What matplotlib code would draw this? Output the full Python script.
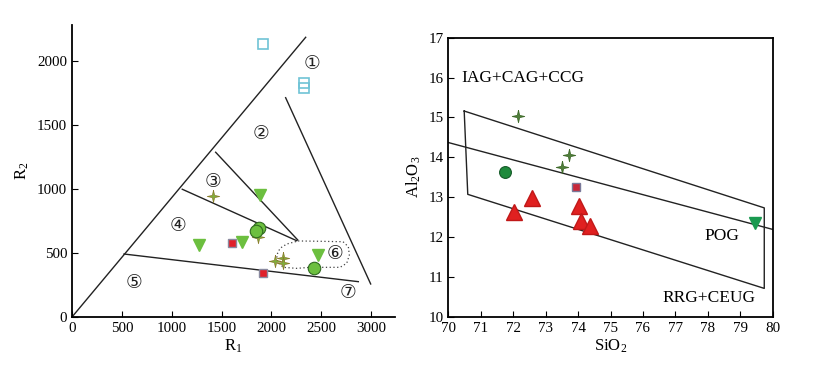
import matplotlib
matplotlib.use("Agg")
import matplotlib.pyplot as plt
import numpy as np

plt.rcParams['font.family'] = ['Liberation Serif', 'DejaVu Sans']
plt.rcParams['mathtext.fontset'] = 'custom'
plt.rcParams['mathtext.rm'] = 'Liberation Serif'
plt.rcParams['mathtext.it'] = 'Liberation Serif:italic'

# ---------------- Left panel (R1-R2) data ----------------
r_cyan_x = [1919, 2327, 2327]
r_cyan_y = [2133, 1830, 1790]
r_tri_x = [1886, 1274, 1702, 2464]
r_tri_y = [953, 563, 588, 484]
r_circ_x = [1879, 1846, 2430]
r_circ_y = [698, 672, 380]
r_sq_x = [1601, 1912]
r_sq_y = [576, 341]
r_star_x = [1417, 1869, 2036, 2119, 2119]
r_star_y = [945, 623, 438, 458, 420]

# diagram boundaries (R1, R2)
bnd_diag = ([0, 2344], [0, 2185])
bnd_1_2 = ([2143, 2996], [1713, 258])
bnd_2_3 = ([1441, 2264], [1287, 602])
bnd_3_4 = ([1106, 2254], [998, 596])
bnd_4_5 = ([522, 2872], [492, 276])
field6_x = [2268, 2450, 2719, 2772, 2782, 2756, 2689, 2555, 2388, 2254, 2120,
            2060, 2054, 2087, 2154, 2268]
field6_y = [594, 592, 588, 549, 484, 420, 388, 388, 388, 380, 388,
            432, 484, 537, 570, 594]
field_labels = ['①', '②', '③', '④', '⑤', '⑥', '⑦']
field_lx = [2410, 1896, 1417, 1060, 625, 2638, 2765]
field_ly = [1980, 1435, 1057, 711, 268, 498, 193]

# ---------------- Right panel (SiO2-Al2O3) data ----------------
s_star_x = [72.16, 73.72, 73.50]
s_star_y = [15.04, 14.06, 13.76]
s_circ_x = [71.76]
s_circ_y = [13.64]
s_sq_x = [73.94]
s_sq_y = [13.26]
s_tri_x = [72.03, 72.59, 74.03, 74.09, 74.37]
s_tri_y = [12.62, 12.97, 12.78, 12.40, 12.28]
s_dtri_x = [79.45]
s_dtri_y = [12.36]

para_x = [70.49, 79.74, 79.74, 70.60, 70.49]
para_y = [15.16, 12.73, 10.71, 13.07, 15.16]
mid_x = [70.0, 80.0]
mid_y = [14.37, 12.19]
reg_labels = ['IAG+CAG+CCG', 'POG', 'RRG+CEUG']
reg_lx = [70.41, 78.43, 78.05]
reg_ly = [16.0, 12.02, 10.48]

# thin four-pointed star marker shape
_ang = np.arange(8) * np.pi / 4 + np.pi / 2
_rad = np.where(np.arange(8) % 2 == 0, 1.0, 0.25)
star4 = np.column_stack([_rad * np.cos(_ang), _rad * np.sin(_ang)])
star4 = np.vstack([star4, star4[:1]])

fig = plt.figure(figsize=(8.3, 3.66), dpi=100)

# ---- left axes ----
ax1 = fig.add_axes([72/830, 1-317/366, (395-72)/830, (317-25)/366])
ax1.set_xlim(0, 3240)
ax1.set_ylim(0, 2281)
for s in ['top', 'right']:
    ax1.spines[s].set_visible(False)
for s in ['left', 'bottom']:
    ax1.spines[s].set_linewidth(1.3)
ax1.set_xticks([0, 500, 1000, 1500, 2000, 2500, 3000])
ax1.set_yticks([0, 500, 1000, 1500, 2000])
ax1.tick_params(direction='in', labelsize=10.8, length=4, width=0.8)
ax1.set_xlabel(r'$\mathrm{R}_1$', fontsize=12, labelpad=2)
ax1.set_ylabel(r'$\mathrm{R}_2$', fontsize=12, labelpad=4)

lc = '#222222'
for bx, by in [bnd_diag, bnd_1_2, bnd_2_3, bnd_3_4, bnd_4_5]:
    ax1.plot(bx, by, color=lc, lw=1.0)
ax1.plot(field6_x, field6_y, color='#444444', lw=0.9, ls=(0, (1, 2)))
for t, x, y in zip(field_labels, field_lx, field_ly):
    ax1.text(x, y, t, fontsize=13.5, ha='center', va='center',
             family=['DejaVu Sans'], color='#222222')

ax1.plot(r_cyan_x, r_cyan_y, 's', ms=6.5, mfc='none', mec='#6fc3d6', mew=1.2, ls='none')
ax1.plot(r_tri_x, r_tri_y, 'v', ms=9, mfc='#6cbf3f', mec='#6cbf3f', ls='none')
ax1.plot(r_sq_x, r_sq_y, 's', ms=6, mfc='#e0202a', mec='#8a8aa0', mew=1.0, ls='none')
ax1.plot(r_star_x, r_star_y, marker=star4, ms=9, mfc='#7fae3a', mec='#8a7a2a',
         mew=0.5, ls='none')
ax1.plot(r_circ_x, r_circ_y, 'o', ms=9, mfc='#6cbf3f', mec='#2f6a1f', mew=0.8, ls='none')

# ---- right axes ----
ax2 = fig.add_axes([448.3/830, 1-316.7/366, (772.7-448.3)/830, (316.7-37.7)/366])
ax2.set_xlim(70, 80)
ax2.set_ylim(10, 17)
for s in ax2.spines.values():
    s.set_linewidth(1.3)
ax2.set_xticks(np.arange(70, 81, 1))
ax2.set_yticks(np.arange(10, 18, 1))
ax2.tick_params(direction='in', labelsize=10.8, length=4, width=0.8)
ax2.set_xlabel(r'$\mathrm{SiO}_2$', fontsize=12, labelpad=2)
ax2.set_ylabel(r'$\mathrm{Al}_2\mathrm{O}_3$', fontsize=12, labelpad=4)

ax2.plot(para_x, para_y, color=lc, lw=1.0)
ax2.plot(mid_x, mid_y, color=lc, lw=1.0)
ax2.text(reg_lx[0], reg_ly[0], reg_labels[0], fontsize=12.5, ha='left', va='center')
ax2.text(reg_lx[1], reg_ly[1], reg_labels[1], fontsize=12.5, ha='center', va='center')
ax2.text(reg_lx[2], reg_ly[2], reg_labels[2], fontsize=12.5, ha='center', va='center')

ax2.plot(s_star_x, s_star_y, marker=star4, ms=9, mfc='#4f7f3a', mec='#3f6a2a',
         mew=0.6, ls='none')
ax2.plot(s_circ_x, s_circ_y, 'o', ms=8.5, mfc='#1f8a3c', mec='#155a28', mew=0.8, ls='none')
ax2.plot(s_sq_x, s_sq_y, 's', ms=6, mfc='#c8283a', mec='#7a7a9a', mew=1.0, ls='none')
ax2.plot(s_tri_x, s_tri_y, '^', ms=11, mfc='#e02020', mec='#c01818', ls='none')
ax2.plot(s_dtri_x, s_dtri_y, 'v', ms=9, mfc='#1a9a50', mec='#1a9a50', ls='none')

fig.savefig('out.png', dpi=100)
